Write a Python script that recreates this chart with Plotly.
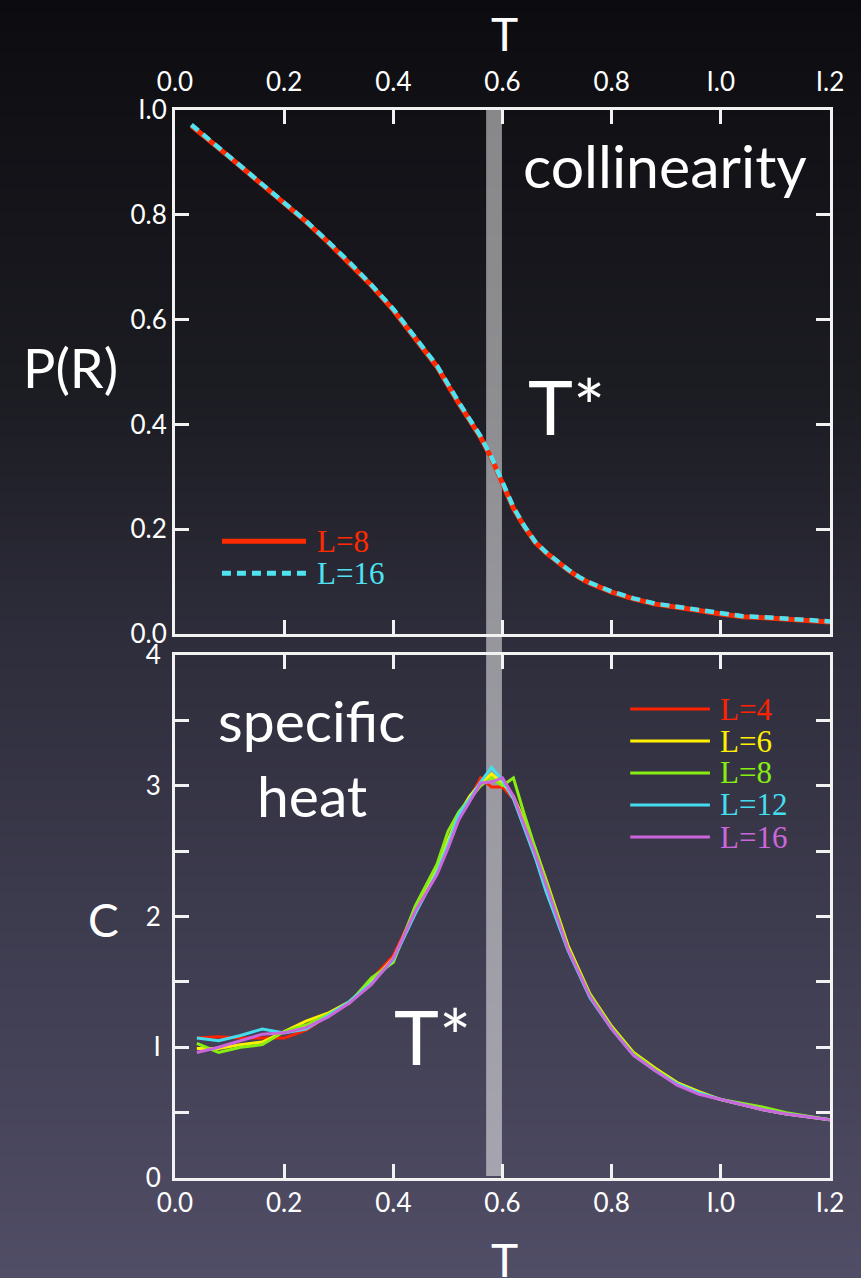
import plotly.graph_objects as go

W, H = 861, 1278

# ---------------- data ----------------
T_P = [0.03, 0.06, 0.10, 0.14, 0.18, 0.20, 0.24, 0.28, 0.32, 0.36, 0.40, 0.44, 0.48,
       0.52, 0.56, 0.58, 0.60, 0.62, 0.64, 0.66, 0.68, 0.70, 0.72, 0.74, 0.76, 0.80,
       0.84, 0.88, 0.92, 0.96, 1.00, 1.04, 1.08, 1.12, 1.16, 1.20]
P_L8 = [0.970, 0.945, 0.910, 0.875, 0.840, 0.822, 0.787, 0.748, 0.708, 0.665, 0.618, 0.565, 0.510,
        0.440, 0.375, 0.335, 0.285, 0.240, 0.205, 0.175, 0.155, 0.138, 0.122, 0.108, 0.097, 0.080,
        0.067, 0.057, 0.052, 0.045, 0.038, 0.033, 0.031, 0.029, 0.026, 0.023]
P_L16 = [0.972, 0.946, 0.911, 0.876, 0.841, 0.823, 0.788, 0.749, 0.709, 0.666, 0.620, 0.566, 0.512,
         0.442, 0.377, 0.337, 0.287, 0.242, 0.206, 0.176, 0.156, 0.139, 0.123, 0.109, 0.098, 0.081,
         0.068, 0.058, 0.052, 0.046, 0.039, 0.034, 0.032, 0.029, 0.027, 0.024]

T_C = [0.04, 0.08, 0.12, 0.16, 0.20, 0.24, 0.28, 0.32, 0.36, 0.40, 0.44, 0.48, 0.50, 0.52,
       0.54, 0.56, 0.58, 0.60, 0.62, 0.64, 0.66, 0.68, 0.72, 0.76, 0.80, 0.84, 0.88, 0.92,
       0.96, 1.00, 1.04, 1.08, 1.12, 1.16, 1.20]
C_L4 = [1.07, 1.08, 1.07, 1.07, 1.07, 1.13, 1.24, 1.34, 1.52, 1.70, 2.05, 2.35, 2.56, 2.76,
        2.90, 3.06, 2.99, 2.99, 2.90, 2.70, 2.50, 2.26, 1.77, 1.40, 1.15, 0.95, 0.83, 0.72,
        0.65, 0.60, 0.56, 0.52, 0.49, 0.47, 0.445]
C_L6 = [0.99, 0.99, 1.02, 1.04, 1.12, 1.20, 1.26, 1.35, 1.50, 1.68, 2.03, 2.36, 2.58, 2.78,
        2.92, 3.02, 3.09, 3.02, 2.92, 2.73, 2.52, 2.28, 1.78, 1.41, 1.16, 0.96, 0.84, 0.73,
        0.66, 0.60, 0.56, 0.52, 0.49, 0.47, 0.445]
C_L8 = [1.03, 0.96, 1.00, 1.02, 1.12, 1.17, 1.25, 1.34, 1.53, 1.65, 2.08, 2.40, 2.65, 2.80,
        2.90, 3.00, 3.06, 3.00, 3.06, 2.78, 2.52, 2.27, 1.76, 1.40, 1.15, 0.95, 0.83, 0.72,
        0.65, 0.60, 0.57, 0.54, 0.50, 0.47, 0.445]
C_L12 = [1.07, 1.05, 1.09, 1.14, 1.11, 1.14, 1.24, 1.35, 1.49, 1.67, 2.02, 2.34, 2.55, 2.78,
         2.90, 3.03, 3.14, 3.04, 2.90, 2.68, 2.45, 2.19, 1.74, 1.38, 1.14, 0.94, 0.82, 0.72,
         0.65, 0.60, 0.56, 0.52, 0.49, 0.47, 0.445]
C_L16 = [0.96, 1.00, 1.05, 1.10, 1.11, 1.15, 1.23, 1.34, 1.48, 1.68, 2.04, 2.32, 2.52, 2.74,
         2.88, 3.02, 3.03, 3.06, 2.92, 2.70, 2.48, 2.24, 1.75, 1.39, 1.14, 0.94, 0.82, 0.71,
         0.64, 0.60, 0.56, 0.52, 0.49, 0.47, 0.445]

X_TICKS = [0.0, 0.2, 0.4, 0.6, 0.8, 1.0, 1.2]
X_TICKTEXT = ["0.0", "0.2", "0.4", "0.6", "0.8", "I.0", "I.2"]
P_TICKS = [0.0, 0.2, 0.4, 0.6, 0.8, 1.0]
P_TICKTEXT = ["0.0", "0.2", "0.4", "0.6", "0.8", "I.0"]
C_TICKS = [0, 0.5, 1, 1.5, 2, 2.5, 3, 3.5, 4]
C_TICKTEXT = ["0", "", "I", "", "2", "", "3", "", "4"]

TSTAR_BAND = [0.570, 0.599]

top_series = [("L=8", T_P, P_L8, "#ff2a00", "solid"), ("L=16", T_P, P_L16, "#4fe3f2", "9px,6px")]
bot_series = [("L=4", C_L4, "#ff2200"), ("L=6", C_L6, "#fff000"), ("L=8", C_L8, "#88ee11"),
              ("L=12", C_L12, "#44ddee"), ("L=16", C_L16, "#cc66dd")]

# ---------------- layout helpers ----------------
def px(x):
    return x / W

def py(y):
    return 1 - y / H

FRAME_L, FRAME_R = 175, 830
TOP_T, TOP_B = 110, 634
BOT_T, BOT_B = 655, 1178

fig = go.Figure()

for name, tx, vals, col, dash in top_series:
    fig.add_trace(go.Scatter(x=tx, y=vals, mode="lines", name=name, showlegend=False,
                             line=dict(color=col, width=5 if dash == "solid" else 4.5, dash=dash),
                             xaxis="x", yaxis="y"))
for name, vals, col in bot_series:
    fig.add_trace(go.Scatter(x=T_C, y=vals, mode="lines", name=name, showlegend=False,
                             line=dict(color=col, width=3), xaxis="x2", yaxis="y2"))

shapes = []
# background gradient
stops = [(0, (12, 12, 16)), (400, (28, 28, 35)), (640, (46, 45, 59)), (1278, (80, 77, 102))]
def bg(y):
    for (y0, c0), (y1, c1) in zip(stops[:-1], stops[1:]):
        if y <= y1:
            f = (y - y0) / (y1 - y0)
            return tuple(round(a + (b - a) * f) for a, b in zip(c0, c1))
    return stops[-1][1]
step = 4
for y in range(0, H, step):
    c = bg(y + step / 2)
    shapes.append(dict(type="rect", xref="paper", yref="paper", x0=-0.01, x1=1.01,
                       y0=py(y + step + 0.5), y1=py(y), line=dict(width=0),
                       fillcolor="rgb(%d,%d,%d)" % c, layer="below"))
# T* band spanning both panels
shapes.append(dict(type="rect", xref="x", yref="paper", x0=TSTAR_BAND[0], x1=TSTAR_BAND[1],
                   y0=py(BOT_B - 2), y1=py(TOP_T), line=dict(width=0),
                   fillcolor="rgba(255,255,255,0.5)", layer="below"))

# legend samples
shapes.append(dict(type="line", xref="x", yref="y", x0=0.086, x1=0.240, y0=0.177, y1=0.177,
                   line=dict(color="#ff2a00", width=5)))
shapes.append(dict(type="line", xref="x", yref="y", x0=0.086, x1=0.240, y0=0.116, y1=0.116,
                   line=dict(color="#4fe3f2", width=5, dash="9px,6px")))
leg_y = [3.587, 3.342, 3.098, 2.853, 2.608]
for (name, vals, col), ly in zip(bot_series, leg_y):
    shapes.append(dict(type="line", xref="x2", yref="y2", x0=0.834, x1=0.980, y0=ly, y1=ly,
                       line=dict(color=col, width=3)))

annotations = []
def txt(s, x, y, size, color="white", family="Lato", xanchor="center", yanchor="middle", xref="paper", yref="paper"):
    annotations.append(dict(text=s, x=x, y=y, xref=xref, yref=yref, showarrow=False,
                            font=dict(size=size, color=color, family=family),
                            xanchor=xanchor, yanchor=yanchor))

txt("L=8", 0.2565, 0.177, 31, "#ff2a00", "Liberation Serif", "left", xref="x", yref="y")
txt("L=16", 0.2565, 0.116, 31, "#4fe3f2", "Liberation Serif", "left", xref="x", yref="y")
for (name, vals, col), ly in zip(bot_series, leg_y):
    txt(name, 0.995, ly, 31, col, "Liberation Serif", "left", xref="x2", yref="y2")

txt("T", px(505), py(33), 46)
txt("T", px(505), py(1259), 46)
txt("collinearity", px(665), py(166), 59)
txt("P(R)", px(70), py(367), 54)
txt("T*", px(566), py(406), 76)
txt("specific", px(311), py(720), 57)
txt("heat", px(312), py(795), 57)
txt("C", px(103), py(920), 46)
txt("T*", px(432), py(1035), 76)

axis_common = dict(showline=True, linecolor="#f2f2f2", linewidth=3, mirror="allticks",
                   ticks="inside", ticklen=14, tickwidth=2.5, tickcolor="#f2f2f2",
                   showgrid=False, zeroline=False, automargin=False,
                   tickfont=dict(family="Lato", size=26, color="white"))

fig.update_layout(
    width=W, height=H, margin=dict(l=0, r=0, t=0, b=0, pad=0), autosize=False,
    paper_bgcolor="#0c0c10", plot_bgcolor="rgba(0,0,0,0)",
    showlegend=False,
    xaxis=dict(domain=[px(FRAME_L), px(FRAME_R)], anchor="y", side="top", range=[0, 1.2],
               tickvals=X_TICKS, ticktext=X_TICKTEXT, ticklabelstandoff=6, **axis_common),
    yaxis=dict(domain=[py(TOP_B), py(TOP_T)], anchor="x", range=[0, 1],
               tickvals=P_TICKS, ticktext=P_TICKTEXT, **axis_common),
    xaxis2=dict(domain=[px(FRAME_L), px(FRAME_R)], anchor="y2", side="bottom", range=[0, 1.2],
                tickvals=X_TICKS, ticktext=X_TICKTEXT, **axis_common),
    yaxis2=dict(domain=[py(BOT_B), py(BOT_T)], anchor="x2", range=[0, 4],
                tickvals=C_TICKS, ticktext=C_TICKTEXT, ticklabelstandoff=6, **axis_common),
    shapes=shapes, annotations=annotations,
)

fig.write_html("out.html")
